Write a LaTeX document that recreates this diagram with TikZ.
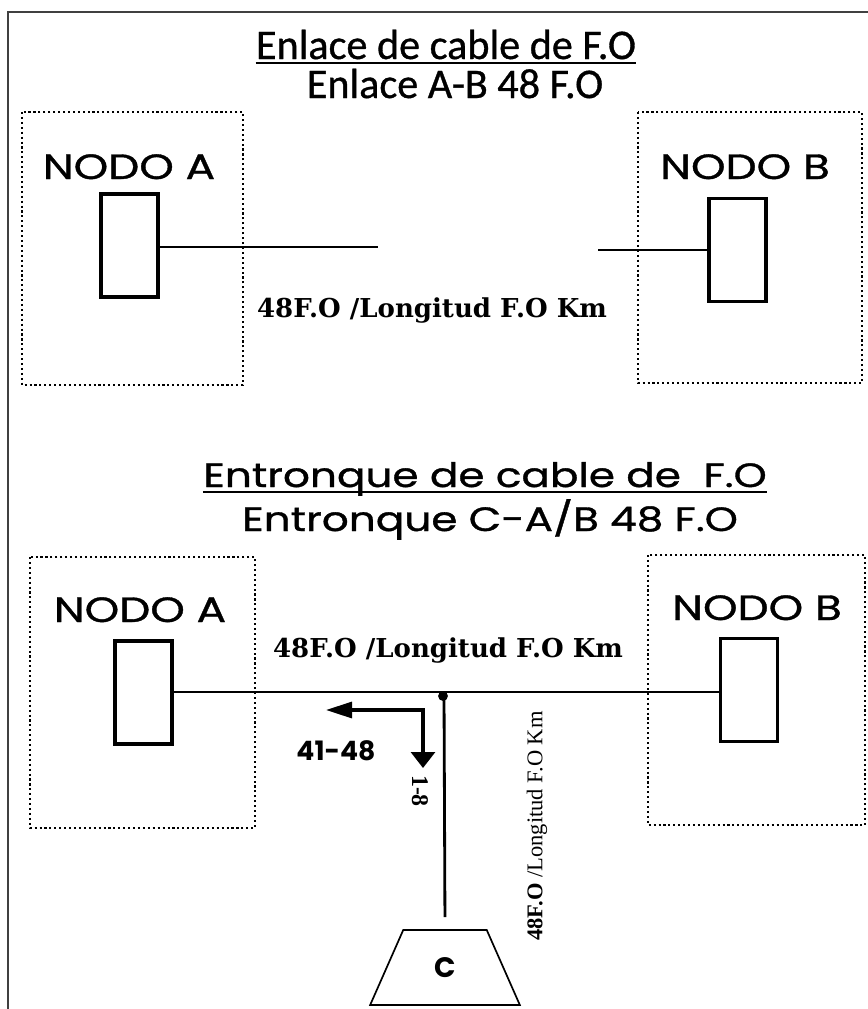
\documentclass[tikz,border=0pt]{standalone}
\usepackage{fontspec}
\setmainfont{Liberation Serif}
\newfontfamily\calibri[FakeBold=0.8]{Carlito}
\newfontfamily\gotica{Poppins}
\newfontfamily\goticaw[FakeStretch=1.25, FakeBold=1]{Poppins}
\newfontfamily\serifa{DejaVu Serif}
\usetikzlibrary{arrows.meta,shapes.geometric}
\begin{document}
\begin{tikzpicture}[x=0.025cm, y=-0.025cm,
    zona/.style={dotted, line width=1.5pt},
    equipo/.style={draw, line width=2.4pt, minimum width=1.42cm, minimum height=2.58cm, inner sep=0pt},
    cable/.style={line width=1.6pt},
    nodo/.style={anchor=base, inner sep=0pt, font=\goticaw\fontsize{25}{27}\selectfont},
    titulo/.style={anchor=base, inner sep=0pt, font=\calibri\fontsize{30}{32}\selectfont},
    titulob/.style={anchor=base, inner sep=0pt, font=\goticaw\fontsize{24}{26}\selectfont},
    etiqueta/.style={anchor=base, inner sep=0pt, font=\serifa\bfseries\fontsize{18.5}{20}\selectfont}]
\useasboundingbox (0,0) rectangle (868,1009);
% marco
\draw[line width=1.2pt, black!75] (868,12) -- (8,12) -- (8,1009);

% ---- enlace A-B ----
\node[titulo] (t1) at (446,59) {Enlace de cable de F.O};
\draw[line width=1.6pt] ([yshift=-3pt]t1.base west) -- ([yshift=-3pt]t1.base east);
\node[titulo] (t2) at (455,98) {Enlace A-B 48 F.O};
\draw[zona] (22,112) rectangle (243,385);
\draw[zona] (638,112) rectangle (862,383);
\node[nodo] (na1) at (129,179) {NODO A};
\node[nodo] (nb1) at (745,179) {NODO B};
\node[equipo] (ea1) at (129.5,245.5) {};
\node[equipo] (eb1) at (737.5,250) {};
\coordinate (fa1) at (378,247);
\coordinate (fb1) at (598,250);
\draw[cable] (ea1.east |- fa1) -- (fa1);
\draw[cable] (fb1) -- (eb1.west);
\node[etiqueta] (l1) at (432,317) {48F.O /Longitud F.O Km};

% ---- entronque C-A/B ----
\node[titulob] (t3) at (485,487) {Entronque de cable de \ F.O};
\draw[line width=1.6pt] ([yshift=-3.5pt]t3.base west) -- ([yshift=-3.5pt]t3.base east);
\node[titulob] (t4) at (490,531) {Entronque C-A/B 48 F.O};
\draw[zona] (30,557) rectangle (255,828);
\draw[zona] (648,555) rectangle (865,825);
\node[nodo] (na2) at (140,622) {NODO A};
\node[nodo] (nb2) at (757,620) {NODO B};
\node[equipo] (ea2) at (143.5,692.5) {};
\node[equipo] (eb2) at (749,690) {};
\coordinate (j) at (444,692);
\draw[cable] (ea2.east |- j) -- (j) -- (eb2.west |- j);
\node[etiqueta] (l2) at (448,657) {48F.O /Longitud F.O Km};
\fill (j) ++(-1,4) circle (3.5pt);
% derivacion
\node[draw, trapezium, trapezium angle=67.5, trapezium stretches=true,
      minimum width=3.75cm, minimum height=1.875cm, line width=1.2pt,
      font=\gotica\bfseries\fontsize{20}{22}\selectfont] (c) at (445,967.5) {C};
\draw[line width=2pt, shorten >=0.3cm] (j) -- (c.north);
\node[rotate=90, font=\fontsize{16}{18}\selectfont] (l3) at (537,826) {\textbf{48F.O} /Longitud F.O Km};
% fibras
\coordinate (esq) at (423,710);
\coordinate (fi) at (326,710);
\coordinate (fd) at (423,768);
\draw[line width=2.2pt, {Triangle[length=0.65cm,width=0.4cm]}-{Triangle[length=0.4cm,width=0.6cm]}] (fi) -- (esq) -- (fd);
\node[anchor=base, inner sep=0pt, font=\gotica\bfseries\fontsize{19}{21}\selectfont] (f1) at (336,760) {41-48};
\node[rotate=-90, font=\bfseries\fontsize{17}{19}\selectfont] (f2) at (420,791) {1-8};
\end{tikzpicture}
\end{document}
